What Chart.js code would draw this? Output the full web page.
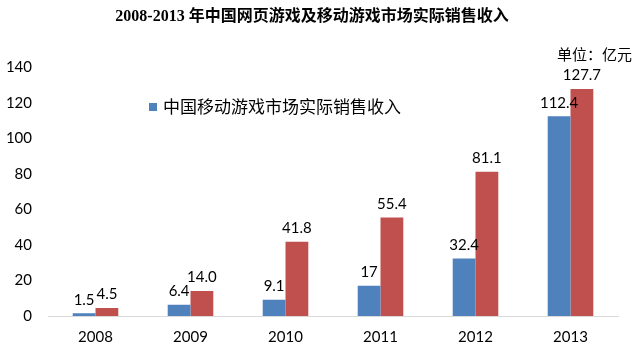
<!DOCTYPE html>
<html>
<head>
<meta charset="utf-8">
<script src="https://cdn.jsdelivr.net/npm/chart.js@4"></script>
<style>
  body { margin: 0; background: #fff; }
  #wrap { width: 634px; height: 358px; }
</style>
</head>
<body>
<div id="wrap"><canvas id="myChart" width="634" height="358"></canvas></div>
<script>
// data
const years = ['2008', '2009', '2010', '2011', '2012', '2013'];
const mobileRevenue = [1.5, 6.4, 9.1, 17, 32.4, 112.4];
const webRevenue = [4.5, 14.0, 41.8, 55.4, 81.1, 127.7];
const yTicks = [0, 20, 40, 60, 80, 100, 120, 140];

const titleText = '2008-2013 年中国网页游戏及移动游戏市场实际销售收入';
const unitText = '单位：亿元';
const mobileLabel = '中国移动游戏市场实际销售收入';
const webLabel = '中国网页游戏市场实际销售收入';

const blue = '#4F81BD';
const red = '#C0504D';
const numFont = 'Lato, "Liberation Sans", sans-serif';

// value labels above each bar
const barLabels = {
    id: 'barLabels',
    afterDatasetsDraw(chart) {
        const ctx = chart.ctx;
        ctx.save();
        ctx.font = '15px ' + numFont;
        ctx.fillStyle = '#000';
        ctx.textAlign = 'center';
        ctx.textBaseline = 'bottom';
        chart.data.datasets.forEach((ds, i) => {
            const meta = chart.getDatasetMeta(i);
            meta.data.forEach((bar, j) => {
                const v = ds.data[j];
                const txt = i === 1 ? v.toFixed(1) : String(v);
                ctx.fillText(txt, bar.x, bar.y - 6);
            });
        });
        ctx.restore();
    }
};

// legend inside plot (only first series) + unit text at top right
const extras = {
    id: 'extras',
    afterDraw(chart) {
        const ctx = chart.ctx;
        const ds = chart.data.datasets[0];
        ctx.save();
        ctx.fillStyle = ds.backgroundColor;
        ctx.fillRect(149, 103, 8, 8);
        ctx.fillStyle = '#000';
        ctx.font = '17px "Noto Sans CJK SC", sans-serif';
        ctx.textAlign = 'left';
        ctx.textBaseline = 'middle';
        ctx.fillText(ds.label, 163, 107);

        ctx.font = '15px "Noto Sans CJK SC", serif';
        ctx.textAlign = 'right';
        ctx.fillText(unitText, 632, 54);
        ctx.restore();
    }
};

const ctx = document.getElementById('myChart').getContext('2d');
const myChart = new Chart(ctx, {
    type: 'bar',
    data: {
        labels: years,
        datasets: [
            { label: mobileLabel, data: mobileRevenue, backgroundColor: blue },
            { label: webLabel, data: webRevenue, backgroundColor: red }
        ]
    },
    options: {
        responsive: false,
        animation: false,
        devicePixelRatio: 1,
        layout: { padding: { left: 6, right: 16, bottom: 0 } },
        datasets: {
            bar: { barPercentage: 1, categoryPercentage: 0.48 }
        },
        plugins: {
            legend: { display: false },
            tooltip: { enabled: false },
            title: {
                display: true,
                text: titleText,
                color: '#000',
                font: { family: '"Liberation Serif", "Noto Sans CJK SC", serif', size: 16, weight: 'bold' },
                padding: { top: 7, bottom: 41 }
            }
        },
        scales: {
            x: {
                grid: { display: false, drawTicks: false },
                border: { color: '#d9d9d9' },
                ticks: { color: '#000', font: { family: numFont, size: 15 }, padding: 12 }
            },
            y: {
                min: 0,
                max: 140,
                afterBuildTicks(scale) {
                    scale.ticks = yTicks.map(v => ({ value: v }));
                },
                afterFit(scale) {
                    scale.width = 42;
                },
                grid: { display: false, drawTicks: false },
                border: { display: false },
                ticks: { color: '#000', font: { family: numFont, size: 15 }, padding: 16 }
            }
        }
    },
    plugins: [barLabels, extras]
});
</script>
</body>
</html>
